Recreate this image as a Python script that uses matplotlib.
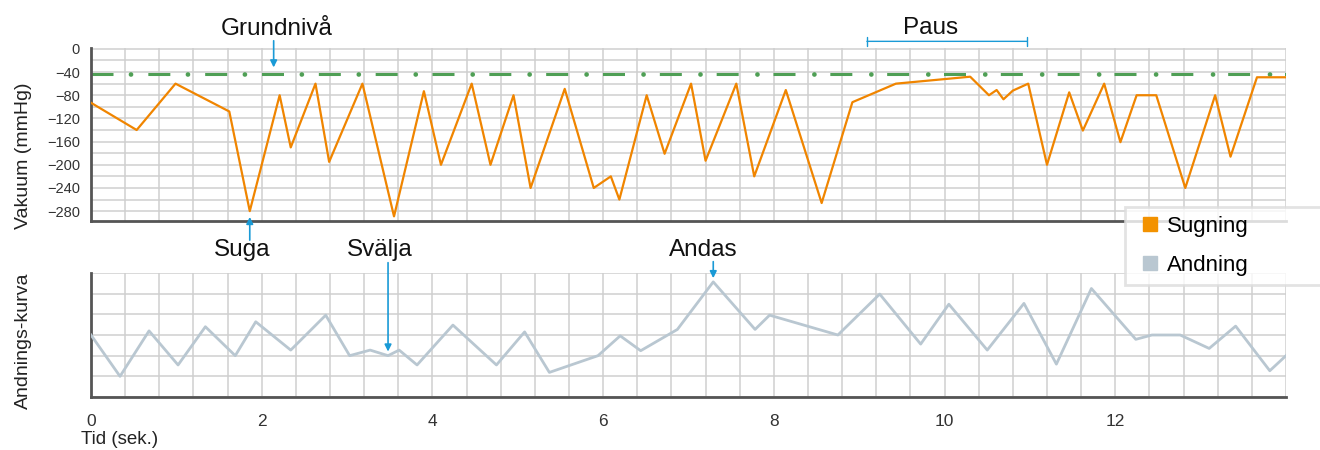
import matplotlib.pyplot as plt
from matplotlib.lines import Line2D
from matplotlib.ticker import MultipleLocator, FixedLocator

plt.rcParams['font.family'] = ['Liberation Sans', 'DejaVu Sans']

# Sugning (vakuum, mmHg)
t_sug = [0, 0.535, 0.99, 1.62, 1.86, 2.21, 2.34, 2.63, 2.79, 3.18, 3.55, 3.90, 4.10,
         4.46, 4.68, 4.95, 5.15, 5.55, 5.89, 6.09, 6.19, 6.51, 6.72, 7.03, 7.20, 7.56,
         7.77, 8.14, 8.56, 8.92, 9.43, 10.30, 10.52, 10.61, 10.69, 10.80, 10.98, 11.20,
         11.46, 11.62, 11.87, 12.06, 12.25, 12.48, 12.82, 13.17, 13.35, 13.66, 14.0]
v_sug = [-93, -140, -60, -108, -280, -80, -170, -60, -195, -60, -289, -73, -200,
         -60, -200, -80, -240, -69, -240, -220, -260, -80, -181, -60, -193, -60,
         -220, -71, -266, -92, -60, -48, -80, -71, -87, -72, -60, -200,
         -75, -141, -60, -161, -80, -80, -240, -80, -186, -49, -49]
grundniva = -43

# Andningskurva
t_br = [0, 0.34, 0.68, 1.02, 1.34, 1.69, 1.93, 2.34, 2.75, 3.03, 3.27, 3.48, 3.61, 3.82,
        4.24, 4.75, 5.08, 5.37, 5.94, 6.20, 6.44, 6.87, 7.29, 7.78, 7.95, 8.75, 9.24,
        9.72, 10.05, 10.50, 10.93, 11.31, 11.72, 12.24, 12.43, 12.76, 13.10, 13.41, 13.81, 14.0]
v_br = [3.0, 1.0, 3.2, 1.55, 3.4, 2.0, 3.64, 2.27, 3.96, 2.0, 2.27, 2.0, 2.27, 1.55,
        3.48, 1.55, 3.15, 1.19, 2.0, 2.96, 2.24, 3.27, 5.57, 3.27, 3.96, 3.0, 4.98,
        2.56, 4.49, 2.27, 4.53, 1.59, 5.25, 2.79, 3.0, 3.0, 2.35, 3.43, 1.27, 2.0]

x_ticks = [0, 2, 4, 6, 8, 10, 12]

orange = '#f08500'
grey_blue = '#b9c7d1'
green = '#4f9f55'
blue = '#1a9ad6'
gridc = '#cfcfcf'
spinec = '#555555'

W, H = 1320, 450
fig = plt.figure(figsize=(W / 100, H / 100), dpi=100)

ax1 = fig.add_axes([91 / W, (H - 221) / H, 1195 / W, (221 - 48.3) / H])
ax2 = fig.add_axes([91 / W, (H - 397) / H, 1195 / W, 124 / H])

# övre: vakuum
ax1.plot(t_sug, v_sug, color=orange, lw=1.6, zorder=3)
# grundnivå: streck + punkt
ax1.plot([0, 14], [grundniva, grundniva], color=green, lw=2.2,
         linestyle=(0, (7.2, 11.4)), dash_capstyle='butt', zorder=2)
ax1.plot([0, 14], [grundniva, grundniva], color=green, lw=3.4,
         linestyle=(3.7, (0.01, 12.05)), dash_capstyle='round', zorder=2)
ax1.set_xlim(0, 14)
ax1.set_ylim(-297, 1)
ax1.yaxis.set_major_locator(MultipleLocator(40))
ax1.yaxis.set_minor_locator(MultipleLocator(20))
ax1.xaxis.set_major_locator(FixedLocator(x_ticks))
ax1.xaxis.set_minor_locator(MultipleLocator(0.4))
ax1.tick_params(axis='x', which='both', length=0, labelbottom=False)
ax1.tick_params(axis='y', which='both', length=0, labelsize=10.5, labelcolor='#333333', pad=8)
ax1.set_ylabel('Vakuum (mmHg)', fontsize=14, color='#222222')

# nedre: andning
ax2.plot(t_br, v_br, color=grey_blue, lw=2.0, zorder=3)
ax2.set_xlim(0, 14)
ax2.set_ylim(0, 6)
ax2.yaxis.set_major_locator(MultipleLocator(1))
ax2.xaxis.set_major_locator(FixedLocator(x_ticks))
ax2.xaxis.set_minor_locator(MultipleLocator(0.4))
ax2.tick_params(axis='both', which='both', length=0)
ax2.tick_params(axis='y', labelleft=False)
ax2.tick_params(axis='x', labelsize=12.5, labelcolor='#333333', pad=12)
ax2.set_ylabel('Andnings-kurva', fontsize=14, color='#222222')

for ax in (ax1, ax2):
    ax.grid(True, which='both', color=gridc, lw=1.1)
    ax.set_axisbelow(True)
    for s in ('top', 'right'):
        ax.spines[s].set_visible(False)
    for s in ('left', 'bottom'):
        ax.spines[s].set_color(spinec)
        ax.spines[s].set_linewidth(2)

ax1.yaxis.set_label_coords(-0.0495, 0.38)
ax2.yaxis.set_label_coords(-0.0495, 0.45)

fig.text(81 / W, 1 - 440 / H, 'Tid (sek.)', fontsize=13.5, color='#222222',
         ha='left', va='center')

# annoteringar
ap = dict(arrowstyle='-|>', color=blue, lw=1.2, mutation_scale=10, shrinkA=0, shrinkB=0)
ax1.annotate('', xy=(2.14, -32), xytext=(2.14, 14), arrowprops=ap, annotation_clip=False)
ax1.annotate('', xy=(1.86, -290), xytext=(1.86, -330), arrowprops=ap, annotation_clip=False)
ax2.annotate('', xy=(3.48, 2.2), xytext=(3.48, 6.5), arrowprops=ap, annotation_clip=False)
ax2.annotate('', xy=(7.29, 5.75), xytext=(7.29, 6.55), arrowprops=ap, annotation_clip=False)
ax1.annotate('', xy=(9.09, 13), xytext=(10.97, 13), annotation_clip=False,
             arrowprops=dict(arrowstyle='|-|, widthA=0.25, widthB=0.25', color=blue,
                             lw=1.0, mutation_scale=12, shrinkA=0, shrinkB=0))

for txt, xp, yp in [('Grundnivå', 277, 35), ('Paus', 931, 34.5), ('Suga', 242, 256),
                    ('Svälja', 380, 256), ('Andas', 703, 256)]:
    fig.text(xp / W, 1 - yp / H, txt, fontsize=17.5, color='#111111',
             ha='center', va='baseline')

handles = [Line2D([], [], marker='s', linestyle='none', color='#f39200', markersize=9.5),
           Line2D([], [], marker='s', linestyle='none', color=grey_blue, markersize=9.5)]
leg = fig.legend(handles, ['Sugning', 'Andning'], loc='upper left',
                 bbox_to_anchor=(1125 / W, 1 - 207 / H - 0.01, 0.2, 0.01), mode='expand',
                 fontsize=16, frameon=True, fancybox=False, borderaxespad=0,
                 handlelength=1.45, handletextpad=0.05, labelspacing=0.8, borderpad=0.4)
leg.get_frame().set_edgecolor('#dcdcdc')
leg.get_frame().set_linewidth(2)
leg.get_frame().set_facecolor('white')

fig.savefig('out.png', dpi=100)
